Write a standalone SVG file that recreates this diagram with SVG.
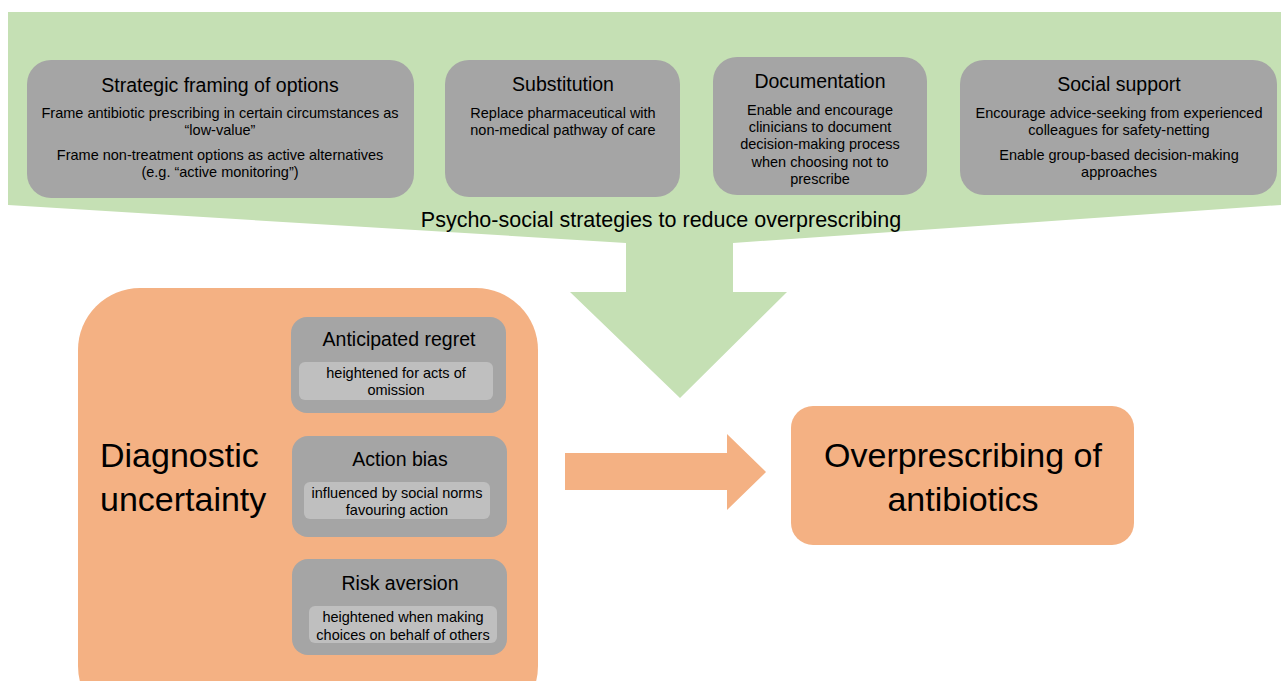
<svg xmlns="http://www.w3.org/2000/svg" width="1281" height="681" viewBox="0 0 1281 681">
<style>
text{font-family:"Liberation Sans","Open Sans",sans-serif;fill:#000;text-anchor:middle}
.g{fill:#a5a5a5}
.li{fill:#bfbfbf}
.or{fill:#f4b183}
.t{font-size:19.5px}
.b{font-size:14.5px}
.big{font-size:34px}
</style>
<rect width="1281" height="681" fill="#fff"/>
<g id="banner">
<path d="M8,12 H1281 V205 L733,243 V292 H787 L680,398 L570,292 H626 V243 L8,205 Z" fill="#c5e0b4"/>
<text x="661" y="227" style="font-size:21.5px">Psycho-social strategies to reduce overprescribing</text>
</g>
<g id="strategic">
<rect x="27" y="60" width="387" height="138" rx="24" class="g"/>
<text x="220" y="92" class="t">Strategic framing of options</text>
<text x="220" y="118" class="b">Frame antibiotic prescribing in certain circumstances as</text>
<text x="220" y="135" class="b">“low-value”</text>
<text x="220" y="160" class="b">Frame non-treatment options as active alternatives</text>
<text x="220" y="177" class="b">(e.g. “active monitoring”)</text>
</g>
<g id="substitution">
<rect x="445" y="60" width="235" height="137" rx="24" class="g"/>
<text x="563" y="91" class="t">Substitution</text>
<text x="563" y="118" class="b">Replace pharmaceutical with</text>
<text x="563" y="135" class="b">non-medical pathway of care</text>
</g>
<g id="documentation">
<rect x="713" y="57" width="214" height="138" rx="24" class="g"/>
<text x="820" y="88" class="t">Documentation</text>
<text x="820" y="115" class="b">Enable and encourage</text>
<text x="820" y="132" class="b">clinicians to document</text>
<text x="820" y="149" class="b">decision-making process</text>
<text x="820" y="167" class="b">when choosing not to</text>
<text x="820" y="184" class="b">prescribe</text>
</g>
<g id="social">
<rect x="960" y="60" width="317" height="135" rx="24" class="g"/>
<text x="1119" y="91" class="t">Social support</text>
<text x="1119" y="118" class="b">Encourage advice-seeking from experienced</text>
<text x="1119" y="135" class="b">colleagues for safety-netting</text>
<text x="1119" y="160" class="b">Enable group-based decision-making</text>
<text x="1119" y="177" class="b">approaches</text>
</g>
<g id="diagnostic">
<rect x="78" y="288" width="460" height="440" rx="62" class="or"/>
<text x="100" y="467" class="big" style="text-anchor:start">Diagnostic</text>
<text x="100" y="511" class="big" style="text-anchor:start">uncertainty</text>
</g>
<g id="regret">
<rect x="291" y="317" width="215" height="96" rx="16" class="g"/>
<text x="399" y="346" class="t">Anticipated regret</text>
<rect x="299" y="362" width="194" height="38" rx="6" class="li"/>
<text x="396" y="378" class="b">heightened for acts of</text>
<text x="396" y="395" class="b">omission</text>
</g>
<g id="actionbias">
<rect x="292" y="436" width="215" height="101" rx="16" class="g"/>
<text x="400" y="466" class="t">Action bias</text>
<rect x="304" y="482" width="186" height="37" rx="6" class="li"/>
<text x="397" y="498" class="b">influenced by social norms</text>
<text x="397" y="515" class="b">favouring action</text>
</g>
<g id="risk">
<rect x="292" y="559" width="215" height="96" rx="16" class="g"/>
<text x="400" y="590" class="t">Risk aversion</text>
<rect x="309" y="606" width="188" height="37" rx="6" class="li"/>
<text x="403" y="622" class="b">heightened when making</text>
<text x="403" y="640" class="b">choices on behalf of others</text>
</g>
<g id="outcome">
<rect x="791" y="406" width="343" height="139" rx="22" class="or"/>
<text x="963" y="467" class="big">Overprescribing of</text>
<text x="963" y="511" class="big">antibiotics</text>
</g>
<g id="connectors">
<path d="M565,453 H727 V434 L766,472 L727,510 V490 H565 Z" class="or"/>
</g>
</svg>
